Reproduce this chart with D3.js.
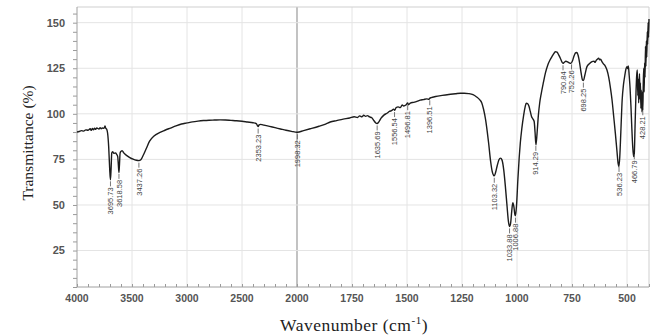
<!DOCTYPE html>
<html>
<head>
<meta charset="utf-8">
<script src="https://cdn.jsdelivr.net/npm/d3@7"></script>
<style>
  html, body { margin: 0; padding: 0; background: #fff; }
  svg { display: block; }
</style>
</head>
<body>
<svg id="chart" width="660" height="336"></svg>
<script>
// FTIR spectrum: wavenumber (cm-1) and transmittance (%)
const wavenumber = [
  4000, 3980, 3960, 3940, 3920, 3900, 3880, 3870, 3860, 3850, 3840, 3830, 3820, 3800, 3790, 3780, 3770, 3760, 3750, 3745, 3740, 3730,
  3722, 3712, 3703, 3696, 3690, 3684, 3676, 3665, 3650, 3640, 3630, 3624, 3619, 3614, 3608, 3598, 3590, 3575, 3550, 3520, 3490, 3460,
  3437, 3420, 3400, 3370, 3340, 3300, 3250, 3200, 3150, 3100, 3050, 3000, 2950, 2900, 2850, 2800, 2750, 2700, 2650, 2600, 2550, 2500,
  2450, 2400, 2370, 2360, 2353, 2345, 2330, 2300, 2250, 2200, 2150, 2100, 2050, 2000, 1998, 1970, 1940, 1900, 1870, 1849, 1820, 1790,
  1760, 1740, 1725, 1715, 1705, 1697, 1688, 1680, 1670, 1660, 1650, 1642, 1636, 1628, 1618, 1605, 1591, 1580, 1570, 1561, 1556, 1550,
  1540, 1530, 1522, 1515, 1505, 1497, 1493, 1485, 1470, 1455, 1440, 1425, 1410, 1400, 1396, 1390, 1370, 1340, 1310, 1280, 1258, 1240,
  1220, 1200, 1185, 1170, 1160, 1152, 1143, 1135, 1129, 1120, 1112, 1106, 1103, 1098, 1090, 1082, 1075, 1068, 1060, 1052, 1045, 1039,
  1034, 1029, 1024, 1019, 1014, 1010, 1007, 1002, 996, 990, 985, 978, 970, 963, 958, 952, 946, 940, 934, 928, 922, 918, 914, 909, 903,
  897, 890, 880, 871, 860, 850, 840, 830, 826, 818, 810, 803, 796, 791, 785, 778, 770, 763, 755, 748, 740, 733, 728, 722, 715, 708, 702,
  698, 692, 682, 670, 659, 650, 645, 640, 635, 629, 624, 620, 614, 608, 600, 591, 583, 575, 568, 560, 553, 546, 540, 537, 533, 528, 522,
  516, 510, 505, 500, 497, 494, 490, 486, 482, 478, 474, 470, 467, 463, 459, 456, 453, 451, 449, 447, 445, 443, 441, 439, 437, 435, 432,
  430, 428, 426, 424, 422, 420, 418, 416, 414, 412, 410, 408, 406, 404, 402, 400
];
const transmittance = [
  90.0, 90.3, 90.8, 90.5, 91.2, 91.0, 91.8, 90.9, 92.0, 91.2, 92.1, 91.5, 92.2, 91.7, 92.4, 91.8, 92.3, 92.0, 92.6, 93.4, 92.2, 91.5,
  89.5, 82.0, 70.0, 63.8, 70.0, 78.5, 79.2, 78.3, 78.5, 77.8, 76.5, 72.0, 67.8, 72.0, 78.5, 79.5, 79.8, 78.6, 77.2, 76.0, 75.1, 74.5,
  74.3, 74.8, 77.0, 81.0, 85.0, 87.8, 89.7, 91.0, 92.2, 93.4, 94.4, 95.0, 95.6, 96.0, 96.3, 96.5, 96.6, 96.7, 96.6, 96.4, 96.2, 95.9,
  95.5, 95.1, 94.6, 93.6, 93.0, 93.9, 94.2, 93.8, 93.1, 92.4, 91.7, 91.0, 90.4, 89.9, 89.9, 90.8, 91.8, 93.2, 94.4, 95.5, 96.3, 97.1,
  97.7, 98.4, 98.0, 98.9, 98.3, 99.2, 98.6, 99.0, 98.3, 97.8, 96.2, 95.0, 94.7, 95.6, 97.6, 99.3, 100.3, 101.3, 101.8, 102.6, 102.0, 103.3,
  103.8, 103.4, 104.9, 104.3, 104.8, 105.9, 105.0, 105.9, 106.3, 106.8, 107.5, 107.8, 108.2, 108.0, 108.6, 108.9, 109.5, 110.1, 110.6, 111.0, 111.3, 111.3,
  111.1, 110.5, 109.4, 107.8, 106.0, 102.5, 97.0, 90.0, 84.0, 74.0, 68.0, 66.2, 66.0, 67.5, 71.5, 74.8, 75.7, 74.6, 69.0, 59.0, 49.0, 41.0,
  38.2, 40.0, 46.5, 51.3, 49.0, 45.0, 44.0, 50.0, 64.0, 76.0, 84.0, 92.0, 99.0, 103.8, 105.8, 105.6, 104.3, 101.5, 98.5, 97.2, 95.8, 90.0, 83.0, 89.0, 99.0,
  105.8, 111.0, 117.2, 122.3, 126.8, 129.5, 131.6, 133.5, 134.1, 133.8, 132.2, 130.5, 128.5, 127.7, 128.3, 128.8, 128.5, 128.0, 127.7, 129.0, 132.0, 133.5, 133.6, 132.0, 127.7, 122.0, 118.5,
  118.2, 121.0, 125.9, 127.6, 128.6, 128.9, 128.2, 129.3, 129.9, 130.5, 129.6, 130.0, 128.6, 127.5, 126.5, 124.0, 120.0, 114.0, 107.6, 98.0, 89.4, 80.0, 72.5, 71.0, 76.0, 90.0, 107.6,
  116.0, 121.0, 124.5, 125.9, 124.8, 126.2, 121.0, 114.0, 104.0, 92.0, 82.0, 76.5, 78.0, 95.0, 112.0, 121.0, 124.0, 110.0, 119.0, 106.0, 116.0, 122.0, 108.0, 117.0, 103.0, 113.0, 101.0,
  112.0, 102.0, 117.0, 125.0, 112.0, 128.0, 120.0, 137.0, 126.0, 140.0, 131.0, 145.0, 138.0, 150.0, 142.0, 152.0
];

// Annotated band positions
const peakPositions = [3695.73, 3618.58, 3437.26, 2353.23, 1998.32, 1635.69, 1556.54, 1496.81, 1396.51,
  1103.32, 1033.88, 1006.88, 914.29, 790.84, 752.26, 698.25, 536.23, 466.79, 428.21];
const peakLabels = ["3695.73", "3618.58", "3437.26", "2353.23", "1998.32", "1635.69", "1556.54", "1496.81", "1396.51",
  "1103.32", "1033.88", "1006.88", "914.29", "790.84", "752.26", "698.25", "536.23", "466.79", "428.21"];

// Axis ticks
const xTickValues = [4000, 3500, 3000, 2500, 2000, 1750, 1500, 1250, 1000, 750, 500];
const yTickValues = [25, 50, 75, 100, 125, 150];

const svg = d3.select("#chart");
const plot = { left: 77, right: 649, top: 7, bottom: 287 };

// Wavenumber axis is expanded 2x below 2000 cm-1
const x = d3.scaleLinear().domain([4000, 2000, 400]).range([plot.left, 297, plot.right]);
const y = d3.scaleLinear().domain([5, 158.6]).range([plot.bottom, plot.top]);

const xMinor = d3.range(4000, 2000, -100).concat(d3.range(2000, 399, -50));
const yMinor = d3.range(5, 158, 5);

// Gridlines
const grid = svg.append("g");
grid.selectAll("line.gx").data(xTickValues.filter(d => d !== 4000)).join("line")
  .attr("x1", d => x(d)).attr("x2", d => x(d))
  .attr("y1", plot.top).attr("y2", plot.bottom)
  .attr("stroke", d => d === 2000 ? "#9a9a9a" : "#e4e4e4")
  .attr("stroke-width", d => d === 2000 ? 1.2 : 1);
grid.selectAll("line.gy").data(yTickValues).join("line")
  .attr("x1", plot.left).attr("x2", plot.right)
  .attr("y1", d => y(d)).attr("y2", d => y(d))
  .attr("stroke", "#e4e4e4");

// Frame (top and right)
svg.append("path")
  .attr("d", `M${plot.left},${plot.top}H${plot.right}V${plot.bottom}`)
  .attr("fill", "none").attr("stroke", "#cfcfcf");

// Y axis
const yAxis = svg.append("g").attr("transform", `translate(${plot.left},0)`);
yAxis.call(d3.axisLeft(y).tickValues(yMinor).tickSize(4).tickFormat(""));
yAxis.call(g => g.selectAll(".tick line").attr("stroke", "#9a9a9a"));
yAxis.select(".domain").remove();
yAxis.append("line").attr("y1", plot.top).attr("y2", plot.bottom).attr("stroke", "#a0a0a0");
yAxis.selectAll("text.lbl").data(yTickValues).join("text")
  .attr("x", -12).attr("y", d => y(d)).attr("dy", "0.35em")
  .attr("text-anchor", "end")
  .attr("font-family", "Liberation Sans, Arial, sans-serif")
  .attr("font-weight", "bold").attr("font-size", 11).attr("fill", "#555")
  .text(d => d);

// X axis
const xAxis = svg.append("g").attr("transform", `translate(0,${plot.bottom})`);
xAxis.call(d3.axisBottom(x).tickValues(xMinor).tickSize(-3).tickFormat(""));
xAxis.call(g => g.selectAll(".tick line").attr("stroke", "#9a9a9a"));
xAxis.select(".domain").remove();
xAxis.append("line").attr("x1", plot.left).attr("x2", plot.right).attr("stroke", "#a0a0a0");
xAxis.selectAll("text.lbl").data(xTickValues).join("text")
  .attr("x", d => x(d)).attr("y", 15)
  .attr("text-anchor", "middle")
  .attr("font-family", "Liberation Sans, Arial, sans-serif")
  .attr("font-weight", "bold").attr("font-size", 10.5).attr("fill", "#555")
  .text(d => d);

// Spectrum
const points = wavenumber.map((w, i) => [w, transmittance[i]]);
const line = d3.line().x(d => x(d[0])).y(d => y(d[1])).curve(d3.curveMonotoneX);
svg.append("path").datum(points)
  .attr("d", line)
  .attr("fill", "none")
  .attr("stroke", "#1c1c1c")
  .attr("stroke-width", 1.4)
  .attr("stroke-linejoin", "round");

// Transmittance at a given wavenumber (linear between neighbouring samples)
function valueAt(w) {
  for (let i = 0; i < wavenumber.length - 1; i++) {
    const a = wavenumber[i], b = wavenumber[i + 1];
    if (w <= a && w >= b) {
      const t = (a - w) / (a - b);
      return transmittance[i] + t * (transmittance[i + 1] - transmittance[i]);
    }
  }
  return transmittance[transmittance.length - 1];
}

// Band annotations: short leader below the band, value rotated
const ann = svg.append("g");
peakPositions.forEach((w, i) => {
  const px = x(w), py = y(valueAt(w));
  ann.append("line")
    .attr("x1", px).attr("x2", px)
    .attr("y1", py + 2).attr("y2", py + 7)
    .attr("stroke", "#555").attr("stroke-width", 0.8);
  ann.append("text")
    .attr("transform", `translate(${px},${py + 8}) rotate(-90)`)
    .attr("dy", "0.35em")
    .attr("text-anchor", "end")
    .attr("font-family", "Liberation Sans, Arial, sans-serif")
    .attr("font-size", 7.5).attr("fill", "#444")
    .text(peakLabels[i]);
});

// Axis titles
svg.append("text")
  .attr("transform", `translate(33,143) rotate(-90)`)
  .attr("text-anchor", "middle")
  .attr("font-family", "Liberation Serif, Times New Roman, serif")
  .attr("font-size", 15.5).attr("fill", "#222")
  .text("Transmittance (%)");

const xt = svg.append("text")
  .attr("x", 354).attr("y", 331)
  .attr("text-anchor", "middle")
  .attr("font-family", "Liberation Serif, Times New Roman, serif")
  .attr("font-size", 17.5).attr("letter-spacing", 0.5).attr("fill", "#222");
xt.append("tspan").text("Wavenumber (cm");
xt.append("tspan").attr("dy", -7).attr("font-size", 11).text("-1");
xt.append("tspan").attr("dy", 7).text(")");
</script>
</body>
</html>
